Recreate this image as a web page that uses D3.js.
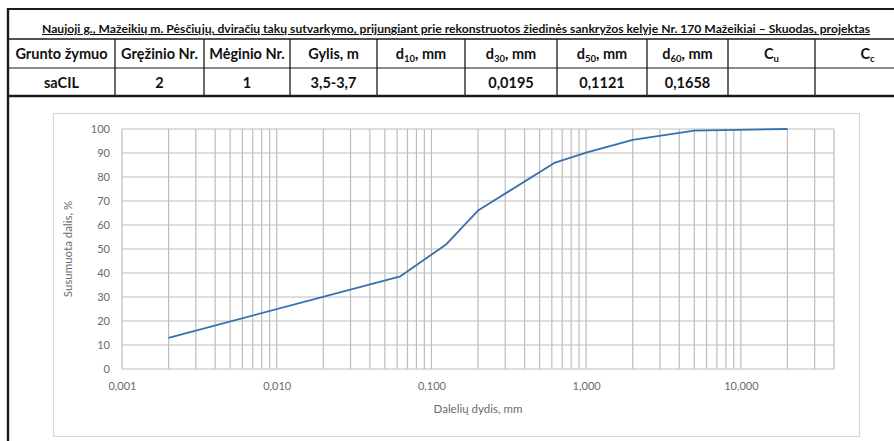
<!DOCTYPE html>
<html><head><meta charset="utf-8">
<script src="https://cdn.jsdelivr.net/npm/d3@7"></script>
<style>
html,body{margin:0;padding:0;background:#fff;}
svg{display:block;}
</style></head>
<body>
<svg id="c" width="894" height="441"></svg>
<script>
// ---- data ----
const titleText = "Naujoji g., Mažeikių m. Pėsčiųjų, dviračių takų sutvarkymo, prijungiant prie rekonstruotos žiedinės sankryžos kelyje Nr. 170 Mažeikiai – Skuodas, projektas";
const headers = [["Grunto žymuo"],["Gręžinio Nr."],["Mėginio Nr."],["Gylis, m"],["d","10",", mm"],["d","30",", mm"],["d","50",", mm"],["d","60",", mm"],["C","u",""],["C","c",""]];
const rowValues = ["saCIL","2","1","3,5-3,7","","0,0195","0,1121","0,1658","",""];
const colEdges = [8,115,204,290,377,465,557,647,728,815,920];
const sizes = [0.002, 0.063, 0.125, 0.2, 0.63, 1, 2, 5, 20];
const passing = [13, 38.6, 52, 66, 86, 90.2, 95.5, 99.3, 100];
const xTicks = [0.001, 0.01, 0.1, 1, 10];
const yTicks = [0,10,20,30,40,50,60,70,80,90,100];
const xDomain = [0.001, 40];

const svg = d3.select("#c");
const F = "Lato, 'Open Sans', sans-serif";

// ---- table ----
const tTop = 9, r1 = 39, r2 = 68, r3 = 96;
svg.append("text").attr("x", 456).attr("y", 33).attr("text-anchor","middle")
  .attr("font-family", F).attr("font-weight","bold").attr("font-size", 10.5)
  .attr("text-decoration","underline").attr("fill","#111")
  .attr("textLength", 828).attr("lengthAdjust","spacingAndGlyphs").text(titleText);

const line = (x1,y1,x2,y2,w)=>svg.append("line").attr("x1",x1).attr("y1",y1).attr("x2",x2).attr("y2",y2)
  .attr("stroke","#1a1a1a").attr("stroke-width",w);
line(8, tTop, 894, tTop, 2.2);
line(8, r1, 894, r1, 1.6);
line(8, r2, 894, r2, 1.2);
line(8, r3, 894, r3, 2.4);
line(8, tTop-1, 8, 441, 2.4);
colEdges.slice(1,-1).forEach(x=>line(x, r1, x, r3, 1.3));

headers.forEach((h,i)=>{
  const cx = (colEdges[i]+colEdges[i+1])/2;
  const t = svg.append("text").attr("x",cx).attr("y",59).attr("text-anchor","middle")
    .attr("font-family",F).attr("font-weight","bold").attr("font-size",14.5).attr("fill","#111");
  if(h.length===1){ t.text(h[0]); }
  else {
    t.append("tspan").text(h[0]);
    t.append("tspan").attr("font-size",9.5).attr("dy",3).text(h[1]);
    t.append("tspan").attr("dy",-3).text(h[2]);
  }
});
rowValues.forEach((v,i)=>{
  const cx = (colEdges[i]+colEdges[i+1])/2;
  svg.append("text").attr("x",cx).attr("y",88).attr("text-anchor","middle")
    .attr("font-family",F).attr("font-weight","bold").attr("font-size",14.5).attr("fill","#111").text(v);
});

// ---- chart box ----
svg.append("rect").attr("x",53.5).attr("y",113.5).attr("width",806).attr("height",323)
  .attr("fill","#fff").attr("stroke","#d9d9d9").attr("stroke-width",1.2);

const x = d3.scaleLog().domain(xDomain).range([122, 834]);
const y = d3.scaleLinear().domain([0,100]).range([369, 129]);

// vertical grid (major+minor)
const vgrid = [];
for(let e=-3;e<=1;e++){ for(let m=1;m<=9;m++){ const v=m*Math.pow(10,e); if(v<=xDomain[1]*1.0001) vgrid.push(v);} }
svg.append("g").selectAll("line").data(vgrid).join("line")
  .attr("x1",d=>x(d)).attr("x2",d=>x(d)).attr("y1",y(0)).attr("y2",y(100))
  .attr("stroke","#bdbdbd").attr("stroke-width",1.2);
svg.append("g").selectAll("line").data(yTicks).join("line")
  .attr("x1",x(xDomain[0])).attr("x2",x(xDomain[1])).attr("y1",d=>y(d)).attr("y2",d=>y(d))
  .attr("stroke","#bdbdbd").attr("stroke-width",1.2);

// axes labels
const fmt = d=>d3.format(".3f")(d).replace(".",",");
const gx = svg.append("g").attr("transform",`translate(0,${y(0)})`)
  .call(d3.axisBottom(x).tickValues(xTicks).tickFormat(fmt).tickSize(0).tickPadding(13));
gx.select(".domain").remove();
gx.selectAll("text").attr("font-family",F).attr("font-size",11).attr("fill","#6b6b6b");

const gy = svg.append("g").attr("transform",`translate(${x(xDomain[0])},0)`)
  .call(d3.axisLeft(y).tickValues(yTicks).tickSize(0).tickPadding(12));
gy.select(".domain").remove();
gy.selectAll("text").attr("font-family",F).attr("font-size",11).attr("fill","#6b6b6b");

svg.append("text").attr("transform",`translate(72,${y(50)}) rotate(-90)`).attr("text-anchor","middle")
  .attr("font-family",F).attr("font-size",11.5).attr("fill","#6b6b6b").text("Susumuota dalis, %");
svg.append("text").attr("x",478).attr("y",413).attr("text-anchor","middle")
  .attr("font-family",F).attr("font-size",11.5).attr("fill","#6b6b6b").text("Dalelių dydis, mm");

// curve
const pts = sizes.map((s,i)=>[s,passing[i]]);
svg.append("path").datum(pts)
  .attr("d", d3.line().x(d=>x(d[0])).y(d=>y(d[1])))
  .attr("fill","none").attr("stroke","#3570ad").attr("stroke-width",1.8).attr("stroke-linejoin","round");
</script>
</body></html>
